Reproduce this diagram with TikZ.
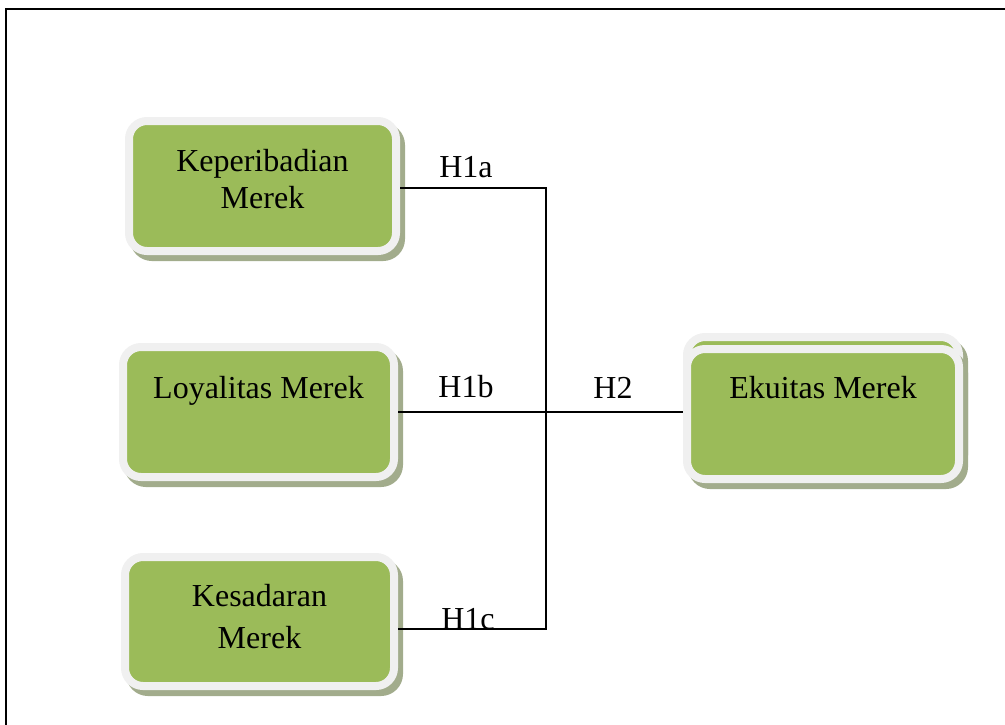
\documentclass[tikz,border=0pt]{standalone}
\usepackage{fontspec}
\setmainfont{Liberation Serif}
\usetikzlibrary{shadows}
\definecolor{boxgreen}{HTML}{9BBB59}
\definecolor{boxrim}{HTML}{F0F0F0}
\definecolor{boxshade}{HTML}{A2AC8C}
\begin{document}
\begin{tikzpicture}[x=1pt,y=-1pt,
  box/.style={draw=boxrim, line width=8pt, fill=boxgreen, rounded corners=18pt,
    align=center, font=\fontsize{32}{38}\selectfont, inner sep=0pt,
    drop shadow={shadow xshift=5pt, shadow yshift=-6pt, fill=boxshade, draw=boxshade, opacity=1}},
  lbl/.style={font=\fontsize{32}{38}\selectfont, inner sep=0pt},
  conn/.style={draw=black, line width=1.4pt}]
\useasboundingbox (0,0) rectangle (1005,724);
\draw[line width=2pt] (5.5,730) -- (5.5,8.5) -- (1010,8.5);

\node[box, minimum width=267pt, minimum height=130pt, text depth=14pt] (kep) at (262.5,186) {Keperibadian\\[-1pt]Merek};
\node[box, minimum width=271pt, minimum height=130pt, text height=22pt, text depth=50pt] (loy) at (258.5,412) {Loyalitas Merek};
\node[box, minimum width=269pt, minimum height=129pt, text depth=10pt] (kes) at (259.5,621.5) {Kesadaran\\[4pt]Merek};
\node[box, minimum width=272pt, minimum height=130pt] (ekb) at (823,402) {};
\node[box, minimum width=272pt, minimum height=130pt, text height=22pt, text depth=54pt] (ek) at (823,414) {Ekuitas Merek};

\coordinate (j) at (546,412);
\draw[conn] ([yshift=-2pt]kep.east) -| (j);
\draw[conn] (loy.east) -- (loy.east -| ek.west);
\draw[conn] ([yshift=-7.5pt]kes.east) -| (j);

\node[lbl] (h1a) at (466,167) {H1a};
\node[lbl] (h1b) at (466,387) {H1b};
\node[lbl] (h2) at (613,388) {H2};
\node[lbl] (h1c) at (468,619) {H1c};
\end{tikzpicture}
\end{document}
